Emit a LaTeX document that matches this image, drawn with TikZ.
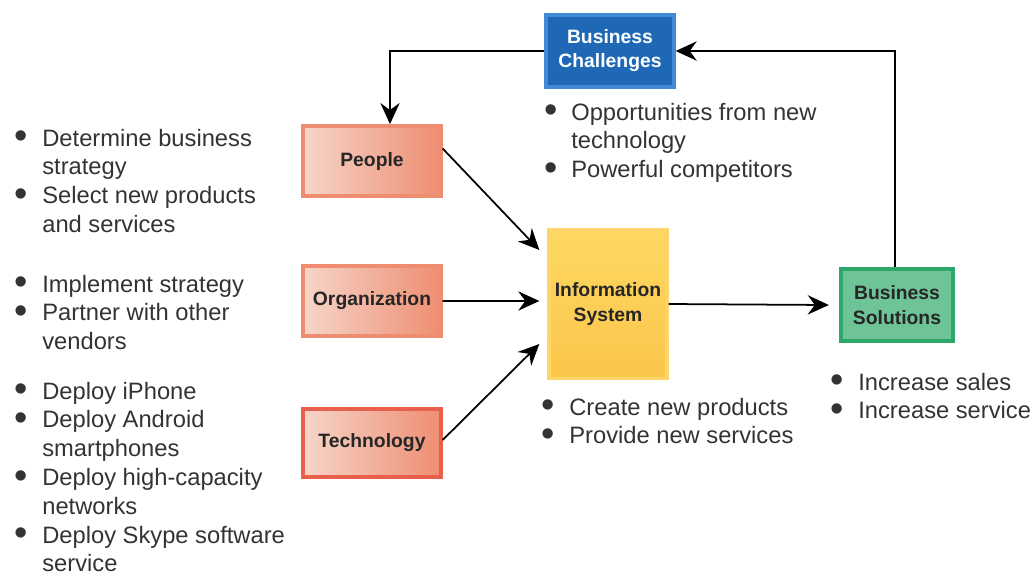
\documentclass[tikz,border=0pt]{standalone}
\usepackage{fontspec}
\setmainfont{Liberation Sans}
\usetikzlibrary{arrows.meta}

\definecolor{txtgray}{HTML}{333333}
\definecolor{peopline}{HTML}{EE8D70}
\definecolor{peopleft}{HTML}{F6D5C8}
\definecolor{peopright}{HTML}{EE8E72}
\definecolor{techline}{HTML}{E8604C}
\definecolor{challine}{HTML}{3F8BD6}
\definecolor{chalfill}{HTML}{1E68B6}
\definecolor{infoline}{HTML}{FDD56A}
\definecolor{infoleft}{HTML}{FDD862}
\definecolor{inforight}{HTML}{FBC54A}
\definecolor{soluline}{HTML}{2DA76A}
\definecolor{solufill}{HTML}{6EC497}

\tikzset{
	box/.style={draw, line width=2.2pt, align=center, inner sep=2pt,
		font=\fontsize{11}{14.2}\selectfont\bfseries, text=black!85},
	peopbox/.style={box, draw=peopline, left color=peopleft, right color=peopright,
		minimum width=2.75cm, minimum height=1.4cm},
	infobox/.style={box, draw=infoline, top color=infoleft, bottom color=inforight,
		minimum width=2.35cm, minimum height=2.98cm},
	chalbox/.style={box, draw=challine, fill=chalfill, text=white,
		minimum width=2.55cm, minimum height=1.44cm, text depth=0.1cm},
	solubox/.style={box, draw=soluline, fill=solufill,
		minimum width=2.25cm, minimum height=1.45cm},
	blist/.style={anchor=base west, inner sep=0pt, text=txtgray,
		font=\fontsize{13.5}{16.4}\selectfont},
	arr/.style={-{Stealth[length=12pt,width=11pt,inset=4pt]}, line width=1pt}
}

\newcommand{\bl}{\raisebox{-0.12em}{\scalebox{1.6}{\textbullet}}}

\begin{document}
\begin{tikzpicture}[x=0.02cm,y=-0.02cm]
	\useasboundingbox (0,0) rectangle (1034,576); % page 1034 x 576

	% boxes
	\node[chalbox] (chal) at (610,51) {Business\\Challenges};
	\node[peopbox] (people) at (372,161) {People};
	\node[peopbox] (org) at (372,301) {Organization};
	\node[peopbox,draw=techline,minimum height=1.36cm] (tech) at (372,443) {Technology};
	\node[infobox] (info) at (608,304) {Information\\System};
	\node[solubox] (sol) at (897,305) {Business\\Solutions};

	% connectors
	\draw[arr] (chal.west) -| ([xshift=0.36cm]people.north);
	\draw[arr] ([xshift=-0.04cm]sol.north) |- (chal.east);
	\draw[arr] ([yshift=0.25cm]people.east) -- ([xshift=-0.16cm,yshift=1.08cm]info.west);
	\draw[arr] (org.east) -- ([xshift=-0.16cm,yshift=0.06cm]info.west);
	\draw[arr] ([yshift=0.06cm]tech.east) -- ([xshift=-0.16cm,yshift=-0.8cm]info.west);
	\draw[arr] (info.east) -- ([xshift=-0.2cm]sol.west);

	% bullet lists
	\node[blist] (peoplist) at (14,146) {\begin{tabular}[t]{@{}p{0.56cm}@{}l@{}}
		\bl & Determine business\\ & strategy\\
		\bl & Select new products\\ & and services\end{tabular}};
	\node[blist] (orglist) at (14,292) {\begin{tabular}[t]{@{}p{0.56cm}@{}l@{}}
		\bl & Implement strategy\\
		\bl & Partner with other\\ & vendors\end{tabular}};
	\node[blist] (techlist) at (14,399) {\begin{tabular}[t]{@{}p{0.56cm}@{}l@{}}
		\bl & Deploy iPhone\\
		\bl & Deploy Android\\ & smartphones\\
		\bl & Deploy high-capacity\\ & networks\\
		\bl & Deploy Skype software\\ & service\end{tabular}};
	\node[blist] (challist) at (544,120) {\begin{tabular}[t]{@{}p{0.54cm}@{}l@{}}
		\bl & Opportunities from new\\ & technology\\
		\bl & Powerful competitors\end{tabular}};
	\node[blist] (infolist) at (541,415) {\begin{tabular}[t]{@{}p{0.56cm}@{}l@{}}
		\bl & Create new products\\
		\bl & Provide new services\end{tabular}};
	\node[blist] (solulist) at (830,390) {\begin{tabular}[t]{@{}p{0.56cm}@{}l@{}}
		\bl & Increase sales\\
		\bl & Increase service\end{tabular}};
\end{tikzpicture}
\end{document}
